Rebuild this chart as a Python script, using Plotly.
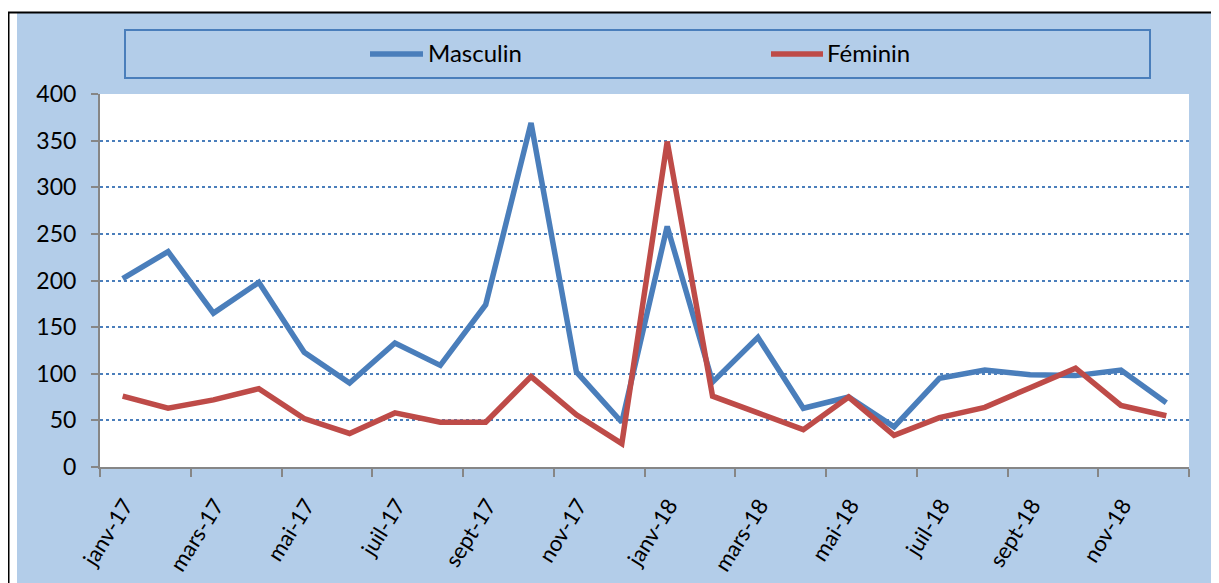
import plotly.graph_objects as go

months = ["janv-17", "févr-17", "mars-17", "avr-17", "mai-17", "juin-17",
          "juil-17", "août-17", "sept-17", "oct-17", "nov-17", "déc-17",
          "janv-18", "févr-18", "mars-18", "avr-18", "mai-18", "juin-18",
          "juil-18", "août-18", "sept-18", "oct-18", "nov-18", "déc-18"]
masculin = [202, 231, 165, 198, 123, 90, 133, 109, 174, 369, 102, 48,
            258, 91, 139, 63, 75, 43, 95, 104, 99, 98, 104, 69]
feminin = [76, 63, 72, 84, 52, 36, 58, 48, 48, 97, 56, 25,
           349, 76, 58, 40, 75, 34, 53, 64, 85, 106, 66, 55]
y_ticks = [0, 50, 100, 150, 200, 250, 300, 350, 400]
series_names = ["Masculin", "Féminin"]

# page offset (browser body margin)
OFF = 8
W, H = 1219 - OFF, 583 - OFF
# plot area in page pixels
L, R, T, B = 100, 1189, 94, 467

def px(x):
    return (x - L) / (R - L)

def py(y):
    return (B - y) / (B - T)

idx = list(range(len(months)))
BLUE = "#4a7ebb"
RED = "#be4b48"
BG = "#b3cde9"
FONT = "Lato"

fig = go.Figure()
fig.add_trace(go.Scatter(x=idx, y=masculin, name=series_names[0], mode="lines",
                         line=dict(color=BLUE, width=5.5), showlegend=False))
fig.add_trace(go.Scatter(x=idx, y=feminin, name=series_names[1], mode="lines",
                         line=dict(color=RED, width=5.5), showlegend=False))

shapes = [
    dict(type="rect", xref="paper", yref="paper", x0=px(-5), x1=px(17), y0=py(-5), y1=py(590),
         fillcolor="white", line=dict(width=0), layer="below"),
    dict(type="rect", xref="paper", yref="paper", x0=px(-5), x1=px(1225), y0=py(-5), y1=py(12),
         fillcolor="white", line=dict(width=0), layer="below"),
    dict(type="line", xref="paper", yref="paper", x0=px(8.5), x1=px(8.5), y0=py(12), y1=py(590),
         line=dict(color="black", width=2)),
    dict(type="line", xref="paper", yref="paper", x0=px(8), x1=px(1225), y0=py(12.5), y1=py(12.5),
         line=dict(color="black", width=2)),
    dict(type="rect", xref="paper", yref="paper", x0=px(125), x1=px(1150), y0=py(30), y1=py(78),
         fillcolor="rgba(0,0,0,0)", line=dict(color=BLUE, width=2)),
    # legend samples
    dict(type="line", xref="paper", yref="paper", x0=px(370), x1=px(423), y0=py(54), y1=py(54),
         line=dict(color=BLUE, width=5.5)),
    dict(type="line", xref="paper", yref="paper", x0=px(771), x1=px(823), y0=py(54), y1=py(54),
         line=dict(color=RED, width=5.5)),
]

annotations = [
    dict(xref="paper", yref="paper", x=px(426), y=py(53), text=series_names[0],
         showarrow=False, xanchor="left", yanchor="middle",
         font=dict(size=24, family=FONT, color="black")),
    dict(xref="paper", yref="paper", x=px(825), y=py(53), text=series_names[1],
         showarrow=False, xanchor="left", yanchor="middle",
         font=dict(size=24, family=FONT, color="black")),
]

fig.update_layout(
    width=W, height=H,
    margin=dict(l=L - OFF, r=1219 - R, t=T - OFF, b=583 - B),
    paper_bgcolor=BG, plot_bgcolor="white",
    font=dict(family=FONT, color="black"),
    shapes=shapes, annotations=annotations,
    showlegend=False,
    xaxis=dict(range=[-0.5, len(months) - 0.5], tickmode="array",
               tickvals=idx[::2], ticktext=months[::2], tickangle=-58,
               ticks="outside", ticklen=0, tickfont=dict(size=22),
               ticklabelstandoff=15, ticklabelshift=2, automargin=False,
               showgrid=False, zeroline=False, showline=True,
               linecolor="#868686", linewidth=2,
               minor=dict(tickmode="array",
                          tickvals=[i - 0.5 for i in idx[::2]] + [len(months) - 0.5],
                          ticks="outside", ticklen=8, tickcolor="#868686",
                          tickwidth=2, showgrid=False)),
    yaxis=dict(range=[0, 400], tickmode="array", tickvals=y_ticks,
               ticks="outside", ticklen=7, tickcolor="#868686", tickwidth=2,
               tickfont=dict(size=23), showline=True, linecolor="#868686",
               linewidth=2, zeroline=False, showgrid=True, gridcolor=BLUE,
               griddash="dot", gridwidth=1.5, ticklabelstandoff=10,
               automargin=False),
)

fig.write_html("out.html")
